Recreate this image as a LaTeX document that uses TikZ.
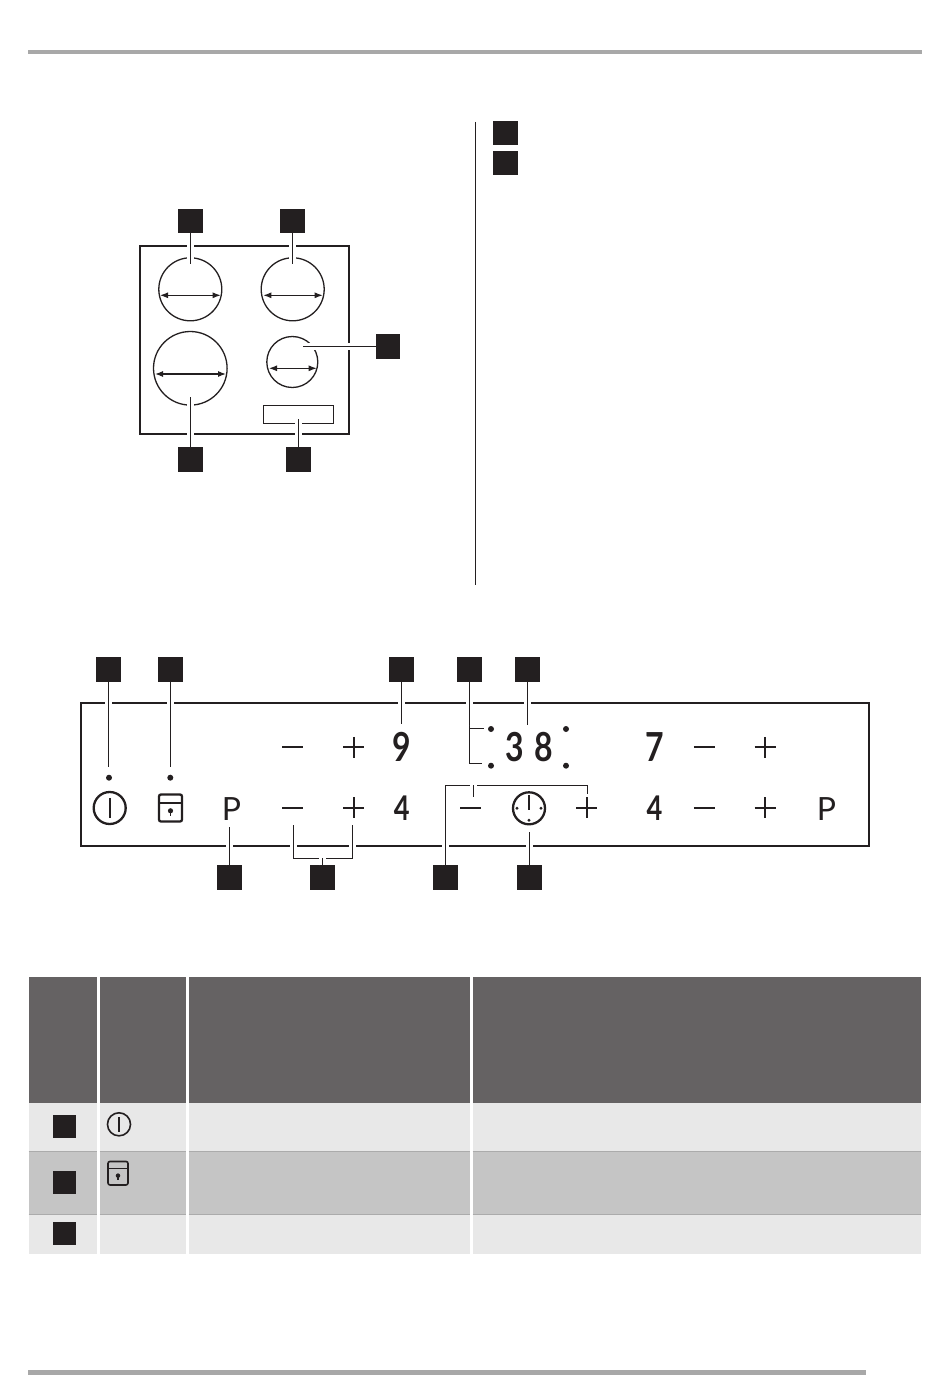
\documentclass[tikz,border=0pt]{standalone}
\usepackage{fontspec}
\usetikzlibrary{arrows.meta}
\newfontfamily\panelfont{Lato}
\definecolor{tagcol}{HTML}{231F20}
\definecolor{rulecol}{HTML}{A8A8A8}
\definecolor{headcol}{HTML}{656263}
\definecolor{lightcol}{HTML}{E8E8E8}
\definecolor{darkcol}{HTML}{C5C5C5}
\definecolor{sepcol}{HTML}{ABABAB}
\tikzset{
  tag/.style={fill=tagcol,minimum size=24.5pt,inner sep=0pt},
  lead/.style={draw=tagcol,line width=1.2pt,preaction={draw=white,line width=7pt}},
  frame/.style={draw=tagcol,line width=2.2pt},
  zone/.style={circle,draw=tagcol,line width=1.3pt,inner sep=0pt},
  span/.style={draw=tagcol,line width=1.1pt,{Latex[length=8pt,width=6pt]}-{Latex[length=8pt,width=6pt]}},
  key/.style={draw=tagcol,line width=2pt},
  symb/.style={draw=tagcol,line width=2.3pt},
  digit/.style={inner sep=0pt,text=tagcol,xscale=.8,transform shape,font=\fontsize{40}{40}\panelfont\bfseries},
  prog/.style={inner sep=0pt,text=tagcol,font=\fontsize{32}{32}\panelfont},
  led/.style={fill=tagcol,circle,minimum size=6pt,inner sep=0pt},
  powericon/.pic={
    \draw[symb] (0,0) circle (16);
    \draw[symb] (0,-10) -- (0,10);
  },
  lockicon/.pic={
    \draw[symb,rounded corners=2pt] (-11.5,-13.5) rectangle (11.5,13.5);
    \draw[symb] (-11.5,-5.3) -- (11.5,-5.3);
    \fill[tagcol] (0,2.8) circle (2.6);
    \draw[tagcol,line width=1.6pt] (0,2.8) -- (0,7.5);
  },
  clockicon/.pic={
    \draw[symb] (0,0) circle (16);
    \draw[symb] (0,-13) -- (0,2);
    \foreach \dx/\dy in {-12/0,12/0,0/12}
      \fill[tagcol] (\dx,\dy) circle (1.6);
  }
}
\newcommand{\minuskey}[2]{\draw[key] (#1-10.5,#2) -- (#1+10.5,#2);}
\newcommand{\pluskey}[2]{\draw[key] (#1-10.5,#2) -- (#1+10.5,#2); \draw[key] (#1,#2-10.5) -- (#1,#2+10.5);}
\begin{document}
\begin{tikzpicture}[x=1pt,y=-1pt]
  \useasboundingbox (0,0) rectangle (950,1383);

  % page rules
  \fill[rulecol] (28,50) rectangle (922,54.5);
  \fill[rulecol] (28,1370) rectangle (866,1374.5);
  \draw[tagcol,line width=1.2pt] (475.4,122) -- (475.4,585);
  \node[tag] (noteA) at (505.5,133) {};
  \node[tag] (noteB) at (505.5,163) {};

  % hob
  \draw[frame] (140,246) rectangle (349,434);
  \node[draw=tagcol,line width=1.2pt,minimum width=70pt,minimum height=18pt,inner sep=0pt] (panelbox) at (298.3,414.3) {};
  \foreach \n/\cx/\cy/\dm/\xa/\xb/\yy in {zoneA/190.3/289.3/63/160/220.7/295.3,
      zoneB/292.7/289.3/63/263.3/322.7/295.3,
      zoneC/190.3/368.3/73.6/155/226/374,
      zoneD/292.3/362/51/269/316.7/368.3}{
    \node[zone,minimum size=\dm pt] (\n) at (\cx,\cy) {};
    \coordinate (\n L) at (\xa,\yy);
    \coordinate (\n R) at (\xb,\yy);
    \draw[span] (\n L) -- (\n R);
  }
  \node[tag] (tagA) at (190.3,221) {};
  \node[tag] (tagB) at (292.7,221) {};
  \node[tag] (tagD) at (388,346.7) {};
  \node[tag] (tagC) at (190.3,459.3) {};
  \node[tag] (tagE) at (298.7,459.3) {};
  \coordinate (endA) at (190.3,264);
  \coordinate (endB) at (292.7,264);
  \coordinate (endD) at (303.3,346.7);
  \coordinate (endC) at (190.3,396.7);
  \coordinate (endE) at (298.7,419.3);
  \draw[lead] (tagA.south) -- (endA);
  \draw[lead] (tagB.south) -- (endB);
  \draw[lead] (tagD.west) -- (endD);
  \draw[lead] (tagC.north) -- (endC);
  \draw[lead] (tagE.north) -- (endE);

  % control panel
  \draw[frame] (80.7,702.7) rectangle (868.7,846);
  \foreach \x in {109,170.3} \node[led] at (\x,777.7) {};
  \foreach \x in {491,566} \foreach \y in {729,765.7} \node[led] at (\x,\y) {};
  \minuskey{292.7}{747.3}
  \pluskey{353.7}{747.3}
  \minuskey{292.7}{807.7}
  \pluskey{353.7}{807.7}
  \minuskey{704.3}{747.3}
  \pluskey{765}{747.3}
  \minuskey{704.3}{807.7}
  \pluskey{765}{807.7}
  \minuskey{470.8}{807.7}
  \pluskey{586.7}{807.7}
  \pic at (109.7,808) {powericon};
  \pic at (170.5,808) {lockicon};
  \pic at (529,808.3) {clockicon};
  \node[digit] (nine) at (401.7,747) {9};
  \node[digit] (time) at (529,747) {3\hspace{13pt}8};
  \node[digit] (seven) at (655,747) {7};
  \node[digit,font=\fontsize{34}{34}\panelfont\bfseries] (fourA) at (401.7,808) {4};
  \node[digit,font=\fontsize{34}{34}\panelfont\bfseries] (fourB) at (654.5,808) {4};
  \node[prog] (progA) at (231.5,809) {P};
  \node[prog] (progB) at (826.5,809) {P};

  \node[tag] (tagF) at (108.7,669.7) {};
  \node[tag] (tagG) at (170.4,669.7) {};
  \node[tag] (tagH) at (401.7,669.7) {};
  \node[tag] (tagJ) at (469.7,669.7) {};
  \node[tag] (tagK) at (527.3,669.7) {};
  \node[tag] (tagL) at (229.7,877.7) {};
  \node[tag] (tagM) at (322.3,877.7) {};
  \node[tag] (tagN) at (445.4,877.7) {};
  \node[tag] (tagP) at (529.7,877.7) {};
  \coordinate (endF) at (108.7,766.7);
  \coordinate (endG) at (170.4,766.7);
  \coordinate (endH) at (401.7,724);
  \coordinate (endK) at (527.3,724.7);
  \coordinate (endL) at (229.7,826.7);
  \coordinate (endP) at (529.7,831.7);
  \coordinate (endJa) at (484.3,728.3);
  \coordinate (endJb) at (481.7,763.3);
  \coordinate (endMa) at (293.3,825);
  \coordinate (endMb) at (352.7,825);
  \coordinate (endNa) at (473.3,797.3);
  \coordinate (endNb) at (587.3,794);
  \draw[lead] (tagF.south) -- (endF);
  \draw[lead] (tagG.south) -- (endG);
  \draw[lead] (tagH.south) -- (endH);
  \draw[lead] (tagK.south) -- (endK);
  \draw[lead] (tagL.north) -- (endL);
  \draw[lead] (tagP.north) -- (endP);
  \draw[lead] (tagJ.south) -- (tagJ.south |- endJb) -- (endJb);
  \draw[lead] (tagJ.south |- endJa) -- (endJa);
  \draw[lead] (endMa) -- (endMa |- 0,858.3) -- (endMb |- 0,858.3) -- (endMb);
  \draw[lead] (tagM.north) -- (tagM.north |- 0,858.3);
  \draw[lead] (tagN.north) -- (tagN.north |- 0,785.3) -- (endNb |- 0,785.3) -- (endNb);
  \draw[lead] (endNa |- 0,785.3) -- (endNa);

  % table
  \foreach \xa/\xb in {28.5/97,99.5/185.7,188.5/470,472.5/921}{
    \fill[headcol] (\xa,977) rectangle (\xb,1103);
    \fill[lightcol] (\xa,1103) rectangle (\xb,1151);
    \fill[darkcol] (\xa,1151) rectangle (\xb,1214.5);
    \fill[lightcol] (\xa,1214.5) rectangle (\xb,1253.5);
    \draw[sepcol,line width=.8pt] (\xa,1151) -- (\xb,1151);
    \draw[sepcol,line width=.8pt] (\xa,1214.5) -- (\xb,1214.5);
  }
  \node[tag,minimum size=23.5pt] (rowA) at (64.7,1126.7) {};
  \node[tag,minimum size=23.5pt] (rowB) at (64.7,1182.7) {};
  \node[tag,minimum size=23.5pt] (rowC) at (64.7,1233.7) {};
  \pic[scale=.72,symb/.append style={line width=1.6pt}] at (119,1124.3) {powericon};
  \pic[scale=.87,symb/.append style={line width=1.6pt}] at (118,1173.2) {lockicon};
\end{tikzpicture}
\end{document}
